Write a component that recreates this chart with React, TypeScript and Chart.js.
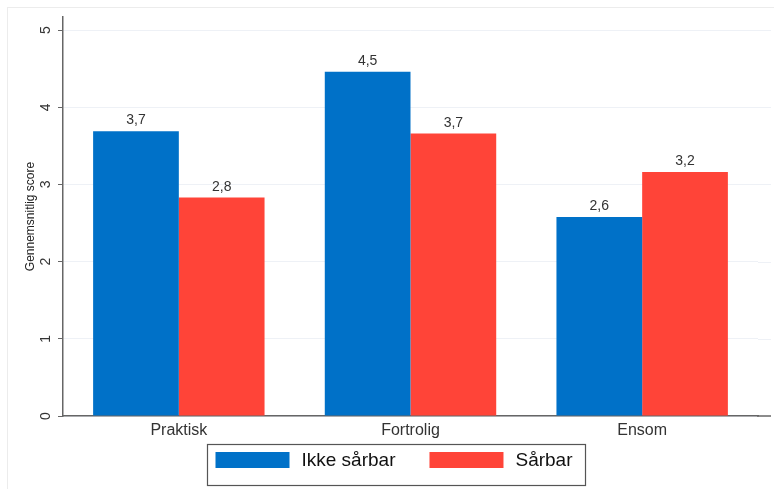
import React, { useEffect, useRef } from "react";
import { Chart, registerables } from "chart.js";

Chart.register(...registerables);

const categories = ["Praktisk", "Fortrolig", "Ensom"];
const seriesLabels = ["Ikke sårbar", "Sårbar"];
const ikkeSarbar = [3.69, 4.46, 2.58];
const sarbar = [2.83, 3.66, 3.16];
const yTicks = [0, 1, 2, 3, 4, 5];
const yTitle = "Gennemsnitlig score";

const FONT = "'Liberation Sans', Arial, sans-serif";
const BLUE = "#0071C8";
const RED = "#FF4438";
const AXIS = "#666666";
const GRID = "#eef1f6";

const fmt = (v: number) => v.toFixed(1).replace(".", ",");

const frameAndLegend = {
  id: "frameAndLegend",
  beforeDatasetsDraw(chart: any) {
    const { ctx, chartArea, scales } = chart;
    ctx.save();
    const ext = 771;
    ctx.strokeStyle = GRID;
    ctx.lineWidth = 1;
    yTicks.forEach((v) => {
      if (v === 0) return;
      const y = Math.round(scales.y.getPixelForValue(v)) + 0.5;
      ctx.beginPath();
      ctx.moveTo(chartArea.right, y);
      ctx.lineTo(ext, y);
      ctx.stroke();
    });
    ctx.strokeStyle = AXIS;
    ctx.lineWidth = 1.5;
    const yb = scales.y.getPixelForValue(0);
    ctx.beginPath();
    ctx.moveTo(chartArea.right - 1, yb);
    ctx.lineTo(ext, yb);
    ctx.stroke();
    ctx.restore();
  },
  afterDraw(chart: any) {
    const { ctx } = chart;
    ctx.save();
    ctx.strokeStyle = "#ececec";
    ctx.lineWidth = 1;
    ctx.strokeRect(7.5, 7.5, 800, 600);

    ctx.font = `14px ${FONT}`;
    ctx.fillStyle = "#333333";
    ctx.textAlign = "center";
    ctx.textBaseline = "alphabetic";
    chart.data.datasets.forEach((ds: any, i: number) => {
      const meta = chart.getDatasetMeta(i);
      meta.data.forEach((el: any, j: number) => {
        ctx.fillText(fmt(ds.data[j]), el.x, el.y - 7);
      });
    });

    ctx.font = `19px ${FONT}`;
    const items = chart.data.datasets.map((ds: any) => ({
      text: ds.label,
      color: ds.backgroundColor,
      w: ctx.measureText(ds.label).width,
    }));
    const padL = 8, padR = 13, sw = 74, sh = 16, gap = 12, itemGap = 34;
    let total = padL + padR;
    items.forEach((it: any, i: number) => {
      total += sw + gap + it.w + (i > 0 ? itemGap : 0);
    });
    const cx = 396.5;
    const boxL = Math.round(cx - total / 2) + 0.5;
    const boxT = 444.5;
    const boxH = 41;
    ctx.fillStyle = "#ffffff";
    ctx.fillRect(boxL, boxT, total, boxH);
    ctx.strokeStyle = "#555555";
    ctx.lineWidth = 1.2;
    ctx.strokeRect(boxL, boxT, total, boxH);
    let x = boxL + padL;
    ctx.textAlign = "left";
    ctx.textBaseline = "middle";
    items.forEach((it: any, i: number) => {
      if (i > 0) x += itemGap;
      ctx.fillStyle = it.color;
      ctx.fillRect(x, boxT + 7.5, sw, sh);
      x += sw + gap;
      ctx.fillStyle = "#111111";
      ctx.fillText(it.text, x, boxT + 16);
      x += it.w;
    });
    ctx.restore();
  },
};

export default function App() {
  const ref = useRef<HTMLCanvasElement | null>(null);

  useEffect(() => {
    if (!ref.current) return;
    const chart = new Chart(ref.current, {
      type: "bar",
      data: {
        labels: categories,
        datasets: [
          {
            label: seriesLabels[0],
            data: ikkeSarbar,
            backgroundColor: BLUE,
            barPercentage: 1,
            categoryPercentage: 0.74,
          },
          {
            label: seriesLabels[1],
            data: sarbar,
            backgroundColor: RED,
            barPercentage: 1,
            categoryPercentage: 0.74,
          },
        ],
      },
      options: {
        responsive: false,
        animation: false,
        layout: { padding: { left: 0, top: 17, right: 16, bottom: 0 } },
        plugins: {
          legend: { display: false },
          tooltip: { enabled: false },
        },
        scales: {
          x: {
            grid: { display: false, drawTicks: false },
            border: { display: true, color: AXIS, width: 1.5 },
            ticks: {
              color: "#333333",
              font: { family: FONT, size: 16 },
              padding: 5,
            },
            afterFit: (s: any) => {
              s.height = 73;
            },
          },
          y: {
            min: 0,
            max: 5.17,
            afterBuildTicks: (s: any) => {
              s.ticks = yTicks.map((v) => ({ value: v }));
            },
            grid: {
              color: GRID,
              tickColor: AXIS,
              tickLength: 5,
              lineWidth: 1,
            },
            border: { display: true, color: AXIS, width: 1.5 },
            ticks: {
              minRotation: 90,
              maxRotation: 90,
              crossAlign: "center",
              padding: 8,
              color: "#333333",
              font: { family: FONT, size: 14 },
              callback: (v: any) => String(v),
            },
            title: {
              display: true,
              text: yTitle,
              color: "#222222",
              font: { family: FONT, size: 12 },
              padding: { top: 23, bottom: 0 },
            },
            afterFit: (s: any) => {
              s.width = 63;
            },
          },
        },
      },
      plugins: [frameAndLegend],
    });
    return () => chart.destroy();
  }, []);

  return (
    <div style={{ position: "absolute", left: 0, top: 0, width: 774, height: 489, background: "#fff" }}>
      <canvas ref={ref} width={774} height={489} style={{ display: "block" }} />
    </div>
  );
}
